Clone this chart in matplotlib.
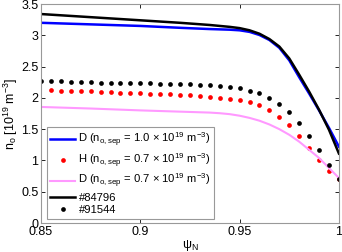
import numpy as np
import matplotlib
matplotlib.use("Agg")
import matplotlib.pyplot as plt

plt.rcParams['font.family'] = ['Liberation Sans', 'DejaVu Sans']
plt.rcParams['mathtext.default'] = 'regular'

# Lines
psi_line = [0.85, 0.875, 0.9, 0.92, 0.935, 0.94, 0.945, 0.95, 0.955, 0.96, 0.965, 0.97,
            0.975, 0.98, 0.985, 0.99, 0.995, 1.0]
black_line = [3.34, 3.29, 3.24, 3.20, 3.165, 3.15, 3.135, 3.115, 3.08, 3.025, 2.94, 2.82,
              2.63, 2.37, 2.10, 1.81, 1.49, 1.11]
blue_line = [3.20, 3.175, 3.15, 3.12, 3.10, 3.095, 3.09, 3.08, 3.055, 3.005, 2.925, 2.80,
             2.60, 2.33, 2.07, 1.80, 1.52, 1.22]
pink_line = [1.855, 1.83, 1.80, 1.78, 1.765, 1.755, 1.74, 1.715, 1.68, 1.635, 1.575, 1.50,
             1.41, 1.30, 1.17, 1.04, 0.88, 0.72]

# Dots
psi_black = [0.85, 0.855, 0.86, 0.865, 0.87, 0.875, 0.88, 0.885, 0.89, 0.895,
             0.9, 0.905, 0.91, 0.915, 0.92, 0.925, 0.93, 0.935, 0.94, 0.945,
             0.95, 0.955, 0.96, 0.965, 0.97, 0.975, 0.98, 0.985, 0.99, 0.995, 1.0]
black_dots = [2.273, 2.268, 2.264, 2.257, 2.252, 2.248, 2.241, 2.238, 2.236, 2.234,
              2.232, 2.230, 2.227, 2.225, 2.222, 2.219, 2.212, 2.205, 2.193, 2.178,
              2.152, 2.115, 2.072, 2.002, 1.901, 1.768, 1.602, 1.395, 1.166, 0.931, 0.703]
psi_red = [0.855, 0.86, 0.865, 0.87, 0.875, 0.88, 0.885, 0.89, 0.895,
           0.9, 0.905, 0.91, 0.915, 0.92, 0.925, 0.93, 0.935, 0.94, 0.945,
           0.95, 0.955, 0.96, 0.965, 0.97, 0.975, 0.98, 0.985, 0.99, 0.995, 1.0]
red_dots = [2.12, 2.117, 2.112, 2.109, 2.104, 2.099, 2.093, 2.085, 2.077,
            2.072, 2.066, 2.061, 2.056, 2.045, 2.04, 2.029, 2.017, 2.006, 1.984,
            1.965, 1.928, 1.880, 1.805, 1.698, 1.565, 1.390, 1.198, 1.006, 0.835, 0.70]

labels = [r'D (n$_{o,sep}$ = 1.0 × 10$^{19}$ m$^{-3}$)',
          r'H (n$_{o,sep}$ = 0.7 × 10$^{19}$ m$^{-3}$)',
          r'D (n$_{o,sep}$ = 0.7 × 10$^{19}$ m$^{-3}$)',
          '#84796', '#91544']

fig = plt.figure(figsize=(3.42, 2.52), dpi=100)
ax = fig.add_axes([0.12, 0.115, 0.871, 0.869])

h1, = ax.plot(psi_line, blue_line, color='#0000ff', lw=1.8, solid_joinstyle='round')
h2, = ax.plot(psi_red, red_dots, ls='none', marker='o', ms=3.4, color='#ff0000', mec='none')
h3, = ax.plot(psi_line, pink_line, color='#ff99ff', lw=1.5, solid_joinstyle='round')
h4, = ax.plot(psi_line, black_line, color='black', lw=1.8, solid_joinstyle='round')
h5, = ax.plot(psi_black, black_dots, ls='none', marker='o', ms=3.4, color='black', mec='none')

ax.set_xlim(0.85, 1.0)
ax.set_ylim(0, 3.5)
ax.set_xticks([0.85, 0.9, 0.95, 1.0])
ax.set_xticklabels(['0.85', '0.9', '0.95', '1'])
ax.set_yticks([0, 0.5, 1, 1.5, 2, 2.5, 3, 3.5])
ax.set_yticklabels(['0', '0.5', '1', '1.5', '2', '2.5', '3', '3.5'])
ax.tick_params(direction='in', top=True, right=True, length=3, width=0.6,
               labelsize=9, colors='black', pad=2)
for sp in ax.spines.values():
    sp.set_color('#999999')
    sp.set_linewidth(0.8)

ax.set_xlabel('ψ$_N$', fontsize=9, labelpad=0)
ax.set_ylabel('n$_o$ [10$^{19}$ m$^{-3}$]', fontsize=9, labelpad=1)

leg = ax.legend([h1, h2, h3, h4, h5], labels, loc='lower left',
                bbox_to_anchor=(0.02, 0.02), fontsize=8.1, frameon=True,
                fancybox=False, edgecolor='#999999', framealpha=1,
                handlelength=2.2, handletextpad=0.3, labelspacing=0.22,
                borderpad=0.3, borderaxespad=0.0)
leg.get_frame().set_linewidth(0.8)

fig.savefig('out.png', dpi=100)
